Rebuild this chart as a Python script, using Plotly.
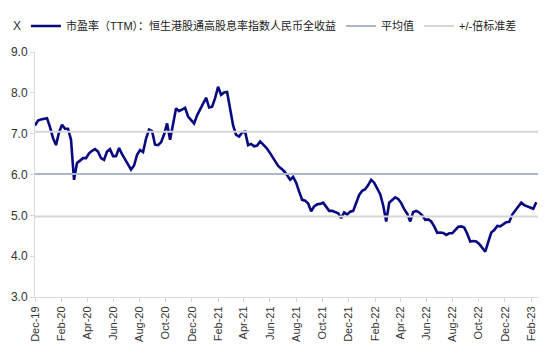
import pandas as pd
import plotly.graph_objects as go

# Weekly PE (TTM) readings, starting 2019-12-01
start_date = "2019-12-01"
pe_values = [
    7.20, 7.32, 7.35, 7.36, 7.38, 7.16, 6.89, 6.72, 7.03, 7.22,
    7.12, 7.12, 6.85, 5.87, 6.28, 6.34, 6.40, 6.40, 6.52, 6.58,
    6.62, 6.56, 6.40, 6.36, 6.56, 6.62, 6.45, 6.45, 6.65, 6.50,
    6.38, 6.23, 6.12, 6.22, 6.48, 6.60, 6.55, 6.88, 7.10, 7.06,
    6.73, 6.72, 6.79, 6.98, 7.25, 6.85, 7.25, 7.62, 7.55, 7.60,
    7.63, 7.42, 7.34, 7.25, 7.45, 7.60, 7.77, 7.88, 7.64, 7.66,
    7.87, 8.15, 7.95, 8.01, 8.02, 7.63, 7.20, 6.97, 6.93, 7.03,
    7.05, 6.72, 6.75, 6.69, 6.71, 6.81, 6.74, 6.66, 6.56, 6.44,
    6.30, 6.21, 6.15, 6.08, 5.98, 5.87, 5.94, 5.80, 5.58, 5.38,
    5.36, 5.29, 5.10, 5.22, 5.27, 5.28, 5.31, 5.22, 5.11, 5.11,
    5.08, 5.05, 4.93, 5.07, 5.02, 5.09, 5.11, 5.32, 5.50, 5.60,
    5.64, 5.74, 5.87, 5.80, 5.66, 5.52, 5.24, 4.85, 5.31, 5.37,
    5.44, 5.40, 5.30, 5.15, 5.04, 4.85, 5.08, 5.11, 5.07, 5.00,
    4.89, 4.90, 4.85, 4.73, 4.57, 4.58, 4.57, 4.52, 4.56, 4.56,
    4.65, 4.72, 4.73, 4.70, 4.55, 4.36, 4.37, 4.36, 4.30, 4.19,
    4.11, 4.35, 4.58, 4.64, 4.74, 4.73, 4.78, 4.83, 4.84, 5.02,
    5.12, 5.23, 5.31, 5.25, 5.22, 5.20, 5.16, 5.32,
]
mean_value = 6.01
std_value = 1.04
x_end = "2023-02-16"

series_name = "市盈率（TTM）：恒生港股通高股息率指数人民币全收益"
mean_name = "平均值"
std_name = "+/-倍标准差"
y_unit = "X"

dates = pd.date_range(start_date, periods=len(pe_values), freq="7D")

fig = go.Figure()
fig.add_trace(go.Scatter(
    x=dates, y=pe_values, mode="lines", name=series_name,
    line=dict(color="#0A0A80", width=2.6),
))
fig.add_trace(go.Scatter(
    x=[dates[0], x_end], y=[mean_value, mean_value], mode="lines", name=mean_name,
    line=dict(color="#A9B7CC", width=2),
))
fig.add_trace(go.Scatter(
    x=[dates[0], x_end, None, dates[0], x_end],
    y=[mean_value + std_value, mean_value + std_value, None,
       mean_value - std_value, mean_value - std_value],
    mode="lines", name=std_name,
    line=dict(color="#D6D6D6", width=2),
))

fig.update_layout(
    width=550, height=354,
    margin=dict(l=35, r=12, t=42, b=57),
    paper_bgcolor="white", plot_bgcolor="white",
    font=dict(family="Liberation Sans, Arial, Noto Sans CJK SC", size=12, color="#333333"),
    showlegend=True,
    legend=dict(
        orientation="h", x=-0.018, xanchor="left", y=1.106, yanchor="middle",
        font=dict(size=11, color="#222222"), bgcolor="rgba(0,0,0,0)",
        itemwidth=30, tracegroupgap=0,
    ),
    xaxis=dict(
        type="date", range=[start_date, x_end],
        tick0="2019-12-01", dtick="M2", tickformat="%b-%y",
        tickangle=-90, tickfont=dict(size=11),
        showgrid=False, showline=True, linecolor="#D9D9D9", linewidth=1,
        ticks="outside", ticklen=4, tickcolor="#D9D9D9",
        zeroline=False,
    ),
    yaxis=dict(
        range=[3, 9], dtick=1, tickformat=".1f",
        showgrid=False, showline=True, linecolor="#D9D9D9", linewidth=1,
        ticks="outside", ticklen=4, tickcolor="#D9D9D9",
        zeroline=False, tickfont=dict(size=12),
    ),
    annotations=[dict(
        text=y_unit, xref="paper", yref="paper", x=-0.036, y=1.106,
        xanchor="center", yanchor="middle", showarrow=False,
        font=dict(size=12, color="#333333"),
    )],
)

fig.write_html("out.html")
